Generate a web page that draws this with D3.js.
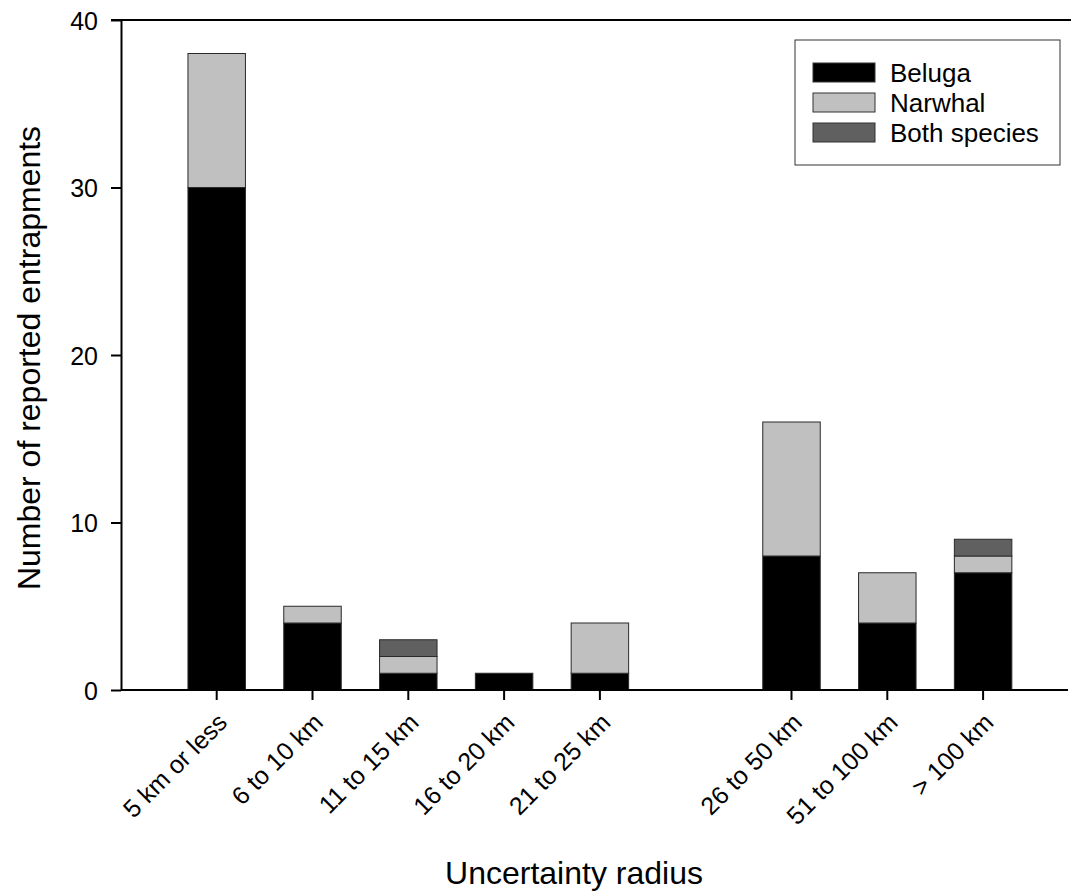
<!DOCTYPE html>
<html>
<head>
<meta charset="utf-8">
<script src="https://cdn.jsdelivr.net/npm/d3@7"></script>
<style>
  body { margin: 0; background: #fff; }
  text { font-family: Arial, "Liberation Sans", sans-serif; fill: #000; }
</style>
</head>
<body>
<div id="chart"></div>
<script>
// categories ("" is the empty slot between the two groups)
const categories = ["5 km or less", "6 to 10 km", "11 to 15 km", "16 to 20 km", "21 to 25 km", "",
    "26 to 50 km", "51 to 100 km", "> 100 km"];
const beluga  = [30, 4, 1, 1, 1, 0, 8, 4, 7];
const narwhal = [8, 1, 1, 0, 3, 0, 8, 3, 1];
const both    = [0, 0, 1, 0, 0, 0, 0, 0, 1];
const seriesNames = ["Beluga", "Narwhal", "Both species"];
const seriesColors = ["#000000", "#c0c0c0", "#606060"];
const yTicks = [0, 10, 20, 30, 40];

const width = 1071;
const height = 892;

const svg = d3.select("#chart")
    .append("svg")
    .attr("width", width)
    .attr("height", height);

const plotLeft = 121, plotRight = 1068, plotTop = 20, plotBottom = 690;

const x = d3.scaleBand()
    .domain(categories)
    .range([168.8, 1031])
    .paddingInner(0.4)
    .paddingOuter(0.2);

const y = d3.scaleLinear()
    .domain([0, 40])
    .range([plotBottom, plotTop]);

// stack
const rows = categories.map((c, i) => ({
    cat: c, Beluga: beluga[i], Narwhal: narwhal[i], "Both species": both[i]
}));
const stacked = d3.stack().keys(seriesNames)(rows);

// BARS
svg.append("g")
    .selectAll("g")
    .data(stacked)
    .enter()
    .append("g")
    .attr("fill", (d, i) => seriesColors[i])
    .selectAll("rect")
    .data(d => d.filter(p => p[1] > p[0]))
    .enter()
    .append("rect")
    .attr("x", d => x(d.data.cat))
    .attr("width", x.bandwidth())
    .attr("y", d => y(d[1]))
    .attr("height", d => y(d[0]) - y(d[1]))
    .attr("stroke", "#2a2a2a")
    .attr("stroke-width", 1);

// AXES
const yAxis = svg.append("g")
    .attr("transform", `translate(${plotLeft},0)`)
    .call(d3.axisLeft(y).tickValues(yTicks).tickSize(10).tickPadding(13).tickSizeOuter(0));
yAxis.select(".domain").attr("stroke-width", 2);
yAxis.selectAll(".tick line").attr("stroke-width", 2);
yAxis.selectAll("text").style("font-size", "25px").attr("dy", "0.36em");

const xAxis = svg.append("g")
    .attr("transform", `translate(0,${plotBottom})`)
    .call(d3.axisBottom(x).tickValues(categories.filter(c => c !== "")).tickSize(10).tickSizeOuter(0));
xAxis.select(".domain").remove();
xAxis.selectAll(".tick line").attr("stroke-width", 2);
xAxis.selectAll("text")
    .style("font-size", "25px")
    .attr("text-anchor", "end")
    .attr("dy", null)
    .attr("y", 0)
    .attr("transform", "translate(12,34) rotate(-45)");

// frame lines (bottom and top)
svg.append("line")
    .attr("x1", plotLeft).attr("x2", plotRight)
    .attr("y1", plotBottom).attr("y2", plotBottom)
    .attr("stroke", "#000").attr("stroke-width", 2);
svg.append("line")
    .attr("x1", plotLeft - 10).attr("x2", width)
    .attr("y1", plotTop).attr("y2", plotTop)
    .attr("stroke", "#000").attr("stroke-width", 2);

// TITLES
svg.append("text")
    .attr("x", 574).attr("y", 884)
    .attr("text-anchor", "middle")
    .style("font-size", "32px")
    .text("Uncertainty radius");

svg.append("text")
    .attr("transform", "translate(40,358) rotate(-90)")
    .attr("text-anchor", "middle")
    .style("font-size", "32px")
    .text("Number of reported entrapments");

// LEGEND
const legend = svg.append("g").attr("transform", "translate(795,40)");
legend.append("rect")
    .attr("width", 265).attr("height", 125)
    .attr("fill", "#fff").attr("stroke", "#333").attr("stroke-width", 1);
const items = legend.selectAll(".item")
    .data(seriesNames)
    .enter()
    .append("g")
    .attr("transform", (d, i) => `translate(18,${23 + i * 30})`);
items.append("rect")
    .attr("width", 62).attr("height", 19)
    .attr("fill", (d, i) => seriesColors[i])
    .attr("stroke", "#333").attr("stroke-width", 1);
items.append("text")
    .attr("x", 77).attr("y", 19)
    .style("font-size", "26px")
    .text(d => d);
</script>
</body>
</html>
